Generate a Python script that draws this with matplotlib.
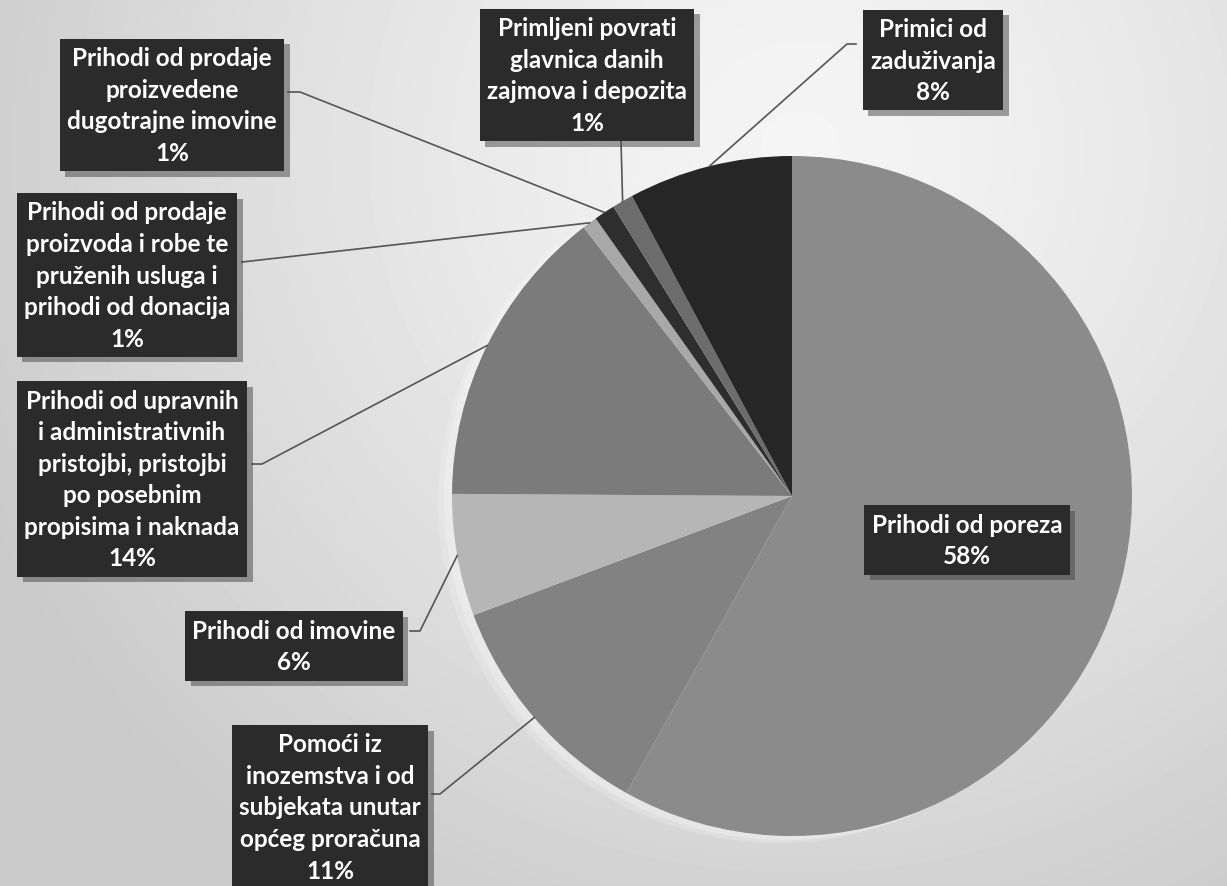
import numpy as np
import matplotlib
matplotlib.use("Agg")
import matplotlib.pyplot as plt
import matplotlib.patheffects as pe

# Data (shares in %)
categories = [
    "Prihodi od poreza",
    "Pomoći iz\ninozemstva i od\nsubjekata unutar\nopćeg proračuna",
    "Prihodi od imovine",
    "Prihodi od upravnih\ni administrativnih\npristojbi, pristojbi\npo posebnim\npropisima i naknada",
    "Prihodi od prodaje\nproizvoda i robe te\npruženih usluga i\nprihodi od donacija",
    "Prihodi od prodaje\nproizvedene\ndugotrajne imovine",
    "Primljeni povrati\nglavnica danih\nzajmova i depozita",
    "Primici od\nzaduživanja",
]
shares = [58.1, 11.2, 5.8, 14.4, 0.7, 1.0, 1.0, 7.8]
colors = ["#8b8b8b", "#828282", "#b6b6b6", "#7b7b7b",
          "#a8a8a8", "#2e2e2e", "#6c6c6c", "#262626"]

W, H = 1227, 887
fig = plt.figure(figsize=(W / 100, H / 100), dpi=100)
ax = fig.add_axes([0, 0, 1, 1])

# scanned-paper style background, lighter near the top centre
yy, xx = np.mgrid[0:H, 0:W]
d = np.hypot(xx - 800, yy - 150)
bg = 0.96 - 0.17 * np.clip(d / 900, 0, 1) ** 1.3
ax.imshow(bg, cmap="gray", vmin=0, vmax=1, extent=(0, W, 0, H),
          origin="upper", zorder=0)

cx, cy, r = 792, H - 497, 340

# soft light halo on the left side of the pie
for k, a in [(14, 0.25), (8, 0.35)]:
    ax.add_patch(plt.Circle((cx - k, cy - k / 2), r, color="#f6f6f6",
                            alpha=a, lw=0, zorder=1))

wedges, _ = ax.pie(shares, colors=colors, startangle=90, counterclock=False,
                   center=(cx, cy), radius=r, frame=True,
                   wedgeprops=dict(linewidth=0))
for w in wedges:
    w.set_zorder(2)
ax.set_xlim(0, W)
ax.set_ylim(0, H)
ax.set_aspect("equal")
ax.axis("off")

# label box centres (image pixel coords), leader line anchors and stubs
box_pos = [(967, 541), (330, 808), (294, 647), (132, 480),
           (127, 276), (172, 106), (587, 76), (933, 61)]
anchors = [None, (432, 795), (410, 632), (252, 465),
           (242, 263), (288, 93), (621, 142), (856, 45)]
stubs = [0, 8, 10, 10, 0, 12, 0, -9]

for i, (name, v) in enumerate(zip(categories, shares)):
    bx, by = box_pos[i]
    t = ax.text(bx, H - by, f"{name}\n{round(v)}%", ha="center", va="center",
                color="white", fontsize=17.5, fontweight="bold",
                family=["Lato", "DejaVu Sans"], linespacing=1.45, zorder=5,
                bbox=dict(boxstyle="square,pad=0.3", fc="#2b2b2b",
                          ec="none"))
    t.get_bbox_patch().set_path_effects(
        [pe.withSimplePatchShadow(offset=(4, -4), shadow_rgbFace="#444444",
                                  alpha=0.5)])
    if anchors[i] is None:
        continue
    w = wedges[i]
    mid = np.deg2rad((w.theta1 + w.theta2) / 2)
    ex, ey = cx + r * np.cos(mid), cy + r * np.sin(mid)
    ax0, ay0 = anchors[i][0], H - anchors[i][1]
    xs = [ax0, ax0 + stubs[i], ex]
    ys = [ay0, ay0, ey]
    ax.plot(xs, ys, color="#555555", lw=1.2, zorder=4)

fig.savefig("out.png", dpi=100)
